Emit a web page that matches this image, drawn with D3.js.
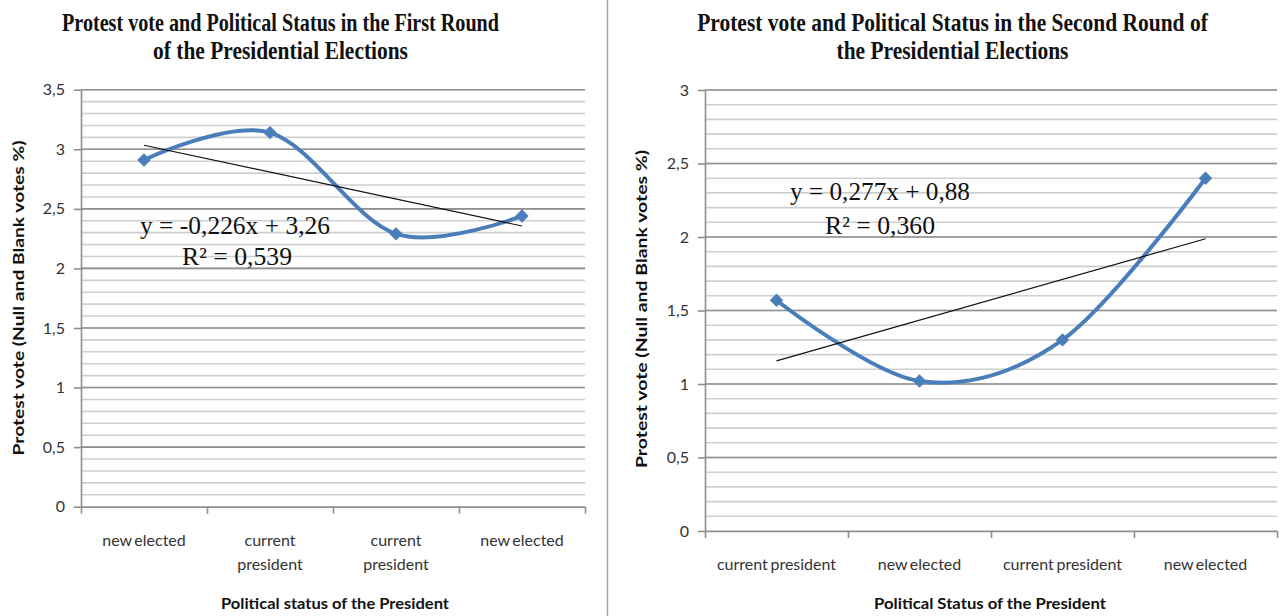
<!DOCTYPE html>
<html>
<head>
<meta charset="utf-8">
<script src="https://cdnjs.cloudflare.com/ajax/libs/d3/7.8.5/d3.min.js"></script>
<style>
  body { margin: 0; background: #fff; }
  svg { display: block; }
  .tick text { font-family: Lato, "Open Sans", sans-serif; font-size: 16px; fill: #333; }
  .cat { font-family: Lato, "Open Sans", sans-serif; font-size: 16px; fill: #333; word-spacing: -1.5px; }
  .title { font-family: "Liberation Serif", "Times New Roman", serif; font-weight: bold; font-size: 26px; fill: #111; }
  .axtitle { font-family: Lato, "Open Sans", sans-serif; font-weight: bold; font-size: 15px; fill: #111; }
  .eq { font-family: "Liberation Serif", "Times New Roman", serif; font-size: 25px; fill: #111; }
</style>
</head>
<body>
<svg id="chart"></svg>

<script>

    var width = 1281,
        height = 616;

    // first round
    var categoriesRound1 = ["new elected", "current|president", "current|president", "new elected"];
    var votesRound1 = [2.91, 3.14, 2.29, 2.44];
    var yTicksRound1 = [0, 0.5, 1, 1.5, 2, 2.5, 3, 3.5];
    var trendRound1 = [-0.226, 3.26];   // slope, intercept
    var eqRound1 = ["y = -0,226x + 3,26", "R² = 0,539"];
    var titleRound1 = ["Protest vote and Political Status in the First Round", "of the Presidential Elections"];

    // second round
    var categoriesRound2 = ["current president", "new elected", "current president", "new elected"];
    var votesRound2 = [1.57, 1.02, 1.30, 2.40];
    var yTicksRound2 = [0, 0.5, 1, 1.5, 2, 2.5, 3];
    var trendRound2 = [0.277, 0.88];
    var eqRound2 = ["y = 0,277x + 0,88", "R² = 0,360"];
    var titleRound2 = ["Protest vote and Political Status in the Second Round of", "the Presidential Elections"];

    var svg = d3.select("#chart")
        .attr("width", width)
        .attr("height", height);

    // divider between the two charts
    svg.append("line")
        .attr("x1", 607.5).attr("x2", 607.5)
        .attr("y1", 0).attr("y2", height)
        .attr("stroke", "#a6a6a6").attr("stroke-width", 1.5);

    var comma = function(d) { return String(d).replace(".", ","); };

    function drawChart(opt) {
        var g = svg.append("g");

        var y = d3.scaleLinear()
            .domain([0, d3.max(opt.yTicks)])
            .range([opt.bottom, opt.top]);

        // categories sit at 1..n, band edges at 0.5, 1.5, ...
        var n = opt.values.length;
        var x = d3.scaleLinear()
            .domain([0.5, n + 0.5])
            .range([opt.left, opt.right]);

        // minor gridlines
        g.append("g")
            .selectAll("line")
            .data(y.ticks(Math.round(d3.max(opt.yTicks) * 10)))
            .enter().append("line")
            .attr("x1", opt.left).attr("x2", opt.right)
            .attr("y1", function(d) { return y(d); })
            .attr("y2", function(d) { return y(d); })
            .attr("stroke", "#cfcfcf")
            .attr("stroke-width", 1.6);

        // major gridlines
        g.append("g")
            .selectAll("line")
            .data(opt.yTicks.filter(function(d) { return d > 0; }))
            .enter().append("line")
            .attr("x1", opt.left).attr("x2", opt.right)
            .attr("y1", function(d) { return y(d); })
            .attr("y2", function(d) { return y(d); })
            .attr("stroke", "#8f8f8f")
            .attr("stroke-width", 1.6);

        // y axis
        var yAxis = g.append("g")
            .attr("transform", "translate(" + opt.left + ",0)")
            .call(d3.axisLeft(y).tickValues(opt.yTicks).tickFormat(comma).tickSize(7).tickSizeOuter(0).tickPadding(9));
        yAxis.select(".domain").attr("stroke", "#8f8f8f").attr("stroke-width", 1.6);
        yAxis.selectAll(".tick line").attr("stroke", "#8f8f8f").attr("stroke-width", 1.6);

        // x axis
        var edges = d3.range(n + 1).map(function(i) { return i + 0.5; });
        var xAxis = g.append("g")
            .attr("transform", "translate(0," + opt.bottom + ")")
            .call(d3.axisBottom(x).tickValues(edges).tickFormat("").tickSize(7).tickSizeOuter(0));
        xAxis.select(".domain").attr("stroke", "#8f8f8f").attr("stroke-width", 1.6);
        xAxis.selectAll(".tick line").attr("stroke", "#8f8f8f").attr("stroke-width", 1.6);

        // category labels (| = line break)
        var cats = g.append("g").selectAll("text")
            .data(opt.categories)
            .enter().append("text")
            .attr("class", "cat")
            .attr("text-anchor", "middle")
            .attr("transform", function(d, i) { return "translate(" + x(i + 1) + "," + (opt.bottom + opt.catOffset) + ")"; });
        cats.selectAll("tspan")
            .data(function(d) { return d.split("|"); })
            .enter().append("tspan")
            .attr("x", 0)
            .attr("dy", function(d, i) { return i ? 24 : 0; })
            .text(function(d) { return d; });

        // series, smoothed like excel
        var pts = opt.values.map(function(v, i) { return [x(i + 1), y(v)]; });
        g.append("path")
            .datum(pts)
            .attr("fill", "none")
            .attr("stroke", "#4a7ebb")
            .attr("stroke-width", 4)
            .attr("d", d3.line().curve(d3.curveCardinal.tension(0)));

        g.append("g")
            .selectAll("path")
            .data(pts)
            .enter().append("path")
            .attr("d", d3.symbol().type(d3.symbolSquare).size(90))
            .attr("transform", function(d) { return "translate(" + d[0] + "," + d[1] + ") rotate(45)"; })
            .attr("fill", "#4a7ebb");

        // linear trendline
        var tr = function(xv) { return opt.trend[0] * xv + opt.trend[1]; };
        g.append("line")
            .attr("x1", x(1)).attr("y1", y(tr(1)))
            .attr("x2", x(n)).attr("y2", y(tr(n)))
            .attr("stroke", "#111")
            .attr("stroke-width", 1.2);

        // equation
        g.append("text").attr("class", "eq")
            .attr("x", opt.eqPos[0]).attr("y", opt.eqPos[1])
            .attr("textLength", opt.eqWidth[0]).attr("lengthAdjust", "spacingAndGlyphs")
            .text(opt.eq[0]);
        g.append("text").attr("class", "eq")
            .attr("x", opt.eqPos[2]).attr("y", opt.eqPos[3])
            .attr("textLength", opt.eqWidth[1]).attr("lengthAdjust", "spacingAndGlyphs")
            .text(opt.eq[1]);

        // title: narrow bold serif, squeezed horizontally with a scale
        opt.title.forEach(function(t, i) {
            var tg = g.append("g");
            var tt = tg.append("text").attr("class", "title")
                .attr("text-anchor", "middle")
                .text(t);
            var w = tt.node().getComputedTextLength();
            tg.attr("transform", "translate(" + opt.titleX + "," + (31 + i * 28) + ") scale(" + (opt.titleWidth[i] / w) + ",1)");
        });

        // axis titles
        g.append("text").attr("class", "axtitle")
            .attr("text-anchor", "middle")
            .attr("transform", "translate(" + opt.yTitlePos[0] + "," + opt.yTitlePos[1] + ") rotate(-90)")
            .attr("textLength", opt.yTitleWidth).attr("lengthAdjust", "spacingAndGlyphs")
            .text("Protest vote (Null and Blank votes %)");
        g.append("text").attr("class", "axtitle")
            .attr("text-anchor", "middle")
            .attr("x", opt.xTitlePos[0]).attr("y", opt.xTitlePos[1])
            .attr("textLength", opt.xTitleWidth).attr("lengthAdjust", "spacingAndGlyphs")
            .text(opt.xTitle);
    }

    drawChart({
        categories: categoriesRound1, values: votesRound1, yTicks: yTicksRound1,
        trend: trendRound1, eq: eqRound1, title: titleRound1,
        left: 81, right: 585, top: 89.7, bottom: 506.7, catOffset: 39,
        eqPos: [140, 234, 182, 265], eqWidth: [190, 110],
        titleX: 280.5, titleWidth: [437, 255],
        yTitlePos: [24, 298], yTitleWidth: 315,
        xTitle: "Political status of the President", xTitlePos: [335, 609], xTitleWidth: 228
    });

    drawChart({
        categories: categoriesRound2, values: votesRound2, yTicks: yTicksRound2,
        trend: trendRound2, eq: eqRound2, title: titleRound2,
        left: 705, right: 1277, top: 90, bottom: 531, catOffset: 39,
        eqPos: [790, 200, 825, 234], eqWidth: [180, 110],
        titleX: 952.5, titleWidth: [511, 232],
        yTitlePos: [647, 309], yTitleWidth: 318,
        xTitle: "Political Status of the President", xTitlePos: [990, 609], xTitleWidth: 232
    });

</script>

</body>
</html>
